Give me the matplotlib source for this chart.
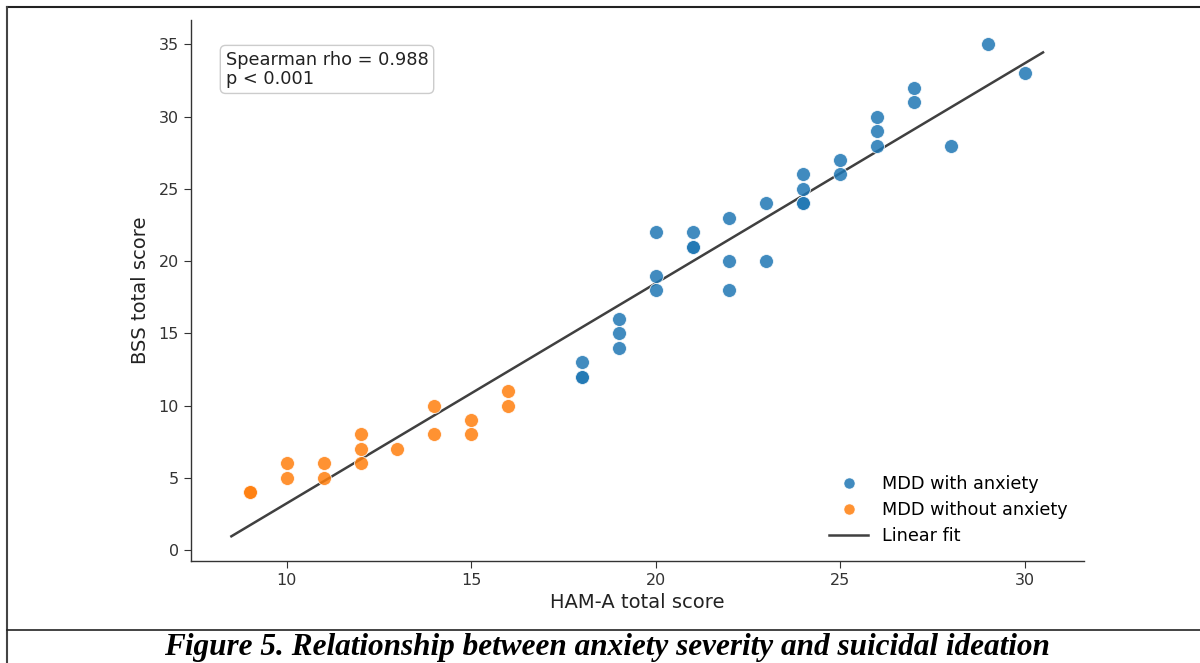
import numpy as np
import matplotlib
matplotlib.use("Agg")
import matplotlib.pyplot as plt
from matplotlib.lines import Line2D

# MDD with anxiety
ham_anx = [18, 18, 18, 19, 19, 19, 20, 20, 20, 21, 21, 21, 22, 22, 22, 23, 23,
           24, 24, 24, 24, 25, 25, 26, 26, 26, 27, 27, 28, 29, 30]
bss_anx = [12, 12, 13, 14, 15, 16, 18, 19, 22, 21, 21, 22, 18, 20, 23, 20, 24,
           24, 24, 25, 26, 26, 27, 28, 29, 30, 31, 32, 28, 35, 33]

# MDD without anxiety
ham_no = [9, 9, 10, 10, 11, 11, 12, 12, 12, 13, 14, 14, 15, 15, 16, 16]
bss_no = [4, 4, 5, 6, 5, 6, 6, 7, 8, 7, 8, 10, 8, 9, 10, 11]

rho_text = "Spearman rho = 0.988\np < 0.001"
caption = "Figure 5. Relationship between anxiety severity and suicidal ideation"

fig = plt.figure(figsize=(12, 6.63), dpi=100)
ax = fig.add_axes([0.159, 0.154, 0.744, 0.816])

ax.scatter(ham_anx, bss_anx, s=100, color="#1f77b4", alpha=0.85,
           edgecolors="white", linewidths=0.6, label="MDD with anxiety", zorder=3)
ax.scatter(ham_no, bss_no, s=100, color="#ff7f0e", alpha=0.85,
           edgecolors="white", linewidths=0.6, label="MDD without anxiety", zorder=3)

# linear fit over all subjects
x_all = np.array(ham_anx + ham_no)
y_all = np.array(bss_anx + bss_no)
k, b = np.polyfit(x_all, y_all, 1)
xs = np.array([x_all.min() - 0.5, x_all.max() + 0.5])
ax.plot(xs, k * xs + b, color="#404040", lw=1.8, label="Linear fit", zorder=2)

ax.spines["top"].set_visible(False)
ax.spines["right"].set_visible(False)
for s in ["left", "bottom"]:
    ax.spines[s].set_color("#333333")
    ax.spines[s].set_linewidth(1.0)
ax.tick_params(labelsize=11.5, colors="#333333", length=5)
ax.set_xticks([10, 15, 20, 25, 30])
ax.set_yticks(range(0, 36, 5))
ax.set_xlabel("HAM-A total score", fontsize=14, color="#222222", labelpad=4)
ax.set_ylabel("BSS total score", fontsize=14, color="#222222", labelpad=6)

ax.text(0.039, 0.943, rho_text, transform=ax.transAxes, fontsize=12.8,
        va="top", ha="left", color="#222222", linespacing=1.1,
        bbox=dict(boxstyle="round,pad=0.3", fc="white", ec="#cccccc"))

handles = [
    Line2D([], [], marker="o", ls="", color="#1f77b4", alpha=0.85, markersize=8,
           markeredgecolor="white", markeredgewidth=0.5),
    Line2D([], [], marker="o", ls="", color="#ff7f0e", alpha=0.85, markersize=8,
           markeredgecolor="white", markeredgewidth=0.5),
    Line2D([], [], color="#404040", lw=1.8),
]
ax.legend(handles, ["MDD with anxiety", "MDD without anxiety", "Linear fit"],
          loc="lower right", frameon=False, fontsize=12.7, handlelength=2.2,
          labelspacing=0.45, bbox_to_anchor=(1.0, 0.0))

# document frame lines
fig.add_artist(Line2D([0.006, 1.0], [1 - 7 / 663, 1 - 7 / 663], color="#222222", lw=1.5))
fig.add_artist(Line2D([0.006, 0.006], [0.0, 1 - 7 / 663], color="#444444", lw=1.5))
fig.add_artist(Line2D([0.006, 1.0], [1 - 630 / 663, 1 - 630 / 663], color="#222222", lw=1.2))

fig.text(0.506, 1 - 655 / 663, caption, ha="center", va="baseline",
         family="Liberation Serif", weight="bold", style="italic", fontsize=22.5)

fig.savefig("out.png", dpi=100)
